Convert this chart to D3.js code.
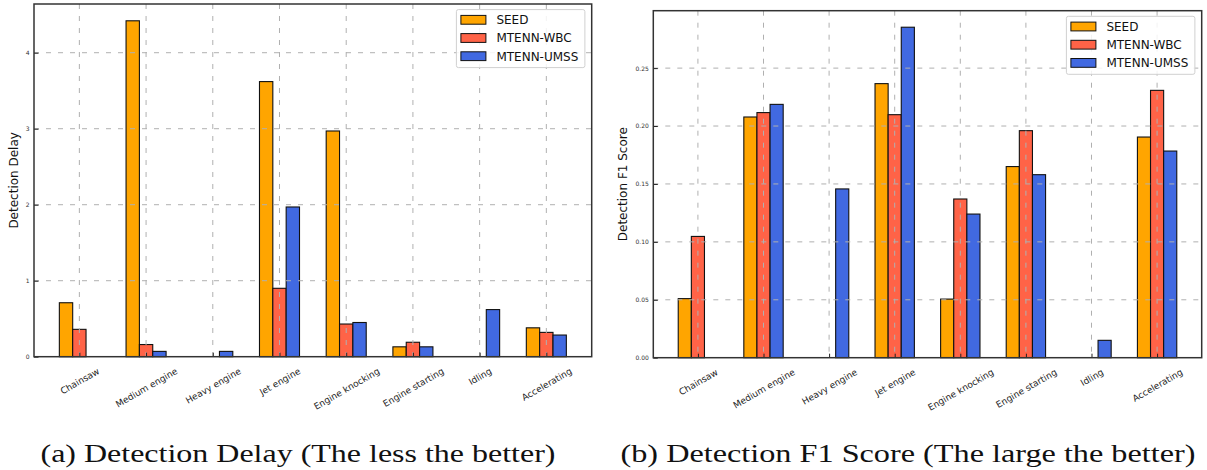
<!DOCTYPE html>
<html>
<head>
<meta charset="utf-8">
<script src="https://cdn.jsdelivr.net/npm/d3@7"></script>
<style>
  html, body { margin: 0; padding: 0; background: #fff; }
  svg { display: block; }
</style>
</head>
<body>
<svg id="chart" width="1207" height="470"></svg>
<script>
// Engine sound categories shared by both panels
const categories = ["Chainsaw", "Medium engine", "Heavy engine", "Jet engine",
  "Engine knocking", "Engine starting", "Idling", "Accelerating"];

const seriesNames = ["SEED", "MTENN-WBC", "MTENN-UMSS"];
const seriesColors = ["#FFA500", "#FF6347", "#4169E1"];

// Panel (a): detection delay
const delaySEED = [0.71, 4.42, 0, 3.62, 2.97, 0.13, 0, 0.38];
const delayWBC  = [0.36, 0.16, 0, 0.90, 0.43, 0.19, 0, 0.32];
const delayUMSS = [0, 0.07, 0.07, 1.97, 0.45, 0.13, 0.62, 0.285];
const delayTicks = [0, 1, 2, 3, 4];

// Panel (b): detection F1 score
const f1SEED = [0.051, 0.2078, 0, 0.2366, 0.0506, 0.165, 0, 0.1905];
const f1WBC  = [0.1047, 0.2116, 0, 0.2098, 0.137, 0.196, 0, 0.2308];
const f1UMSS = [0, 0.2187, 0.1457, 0.2853, 0.124, 0.158, 0.015, 0.1784];
const f1Ticks = [0, 0.05, 0.10, 0.15, 0.20, 0.25];

const svg = d3.select("#chart");
svg.append("rect").attr("width", 1207).attr("height", 470).attr("fill", "#fff");

function drawPanel(opts) {
  const { left, right, top, bottom, series, ticks, tickFmt, ylabel, ylabelX, caption, capX, capW } = opts;
  const g = svg.append("g");
  const barW = 0.2;
  const n = categories.length;

  const x = d3.scaleLinear().domain([-0.3 - 0.38, (n - 1) + 0.3 + 0.38]).range([left, right]);
  const ymax = d3.max(series.flat()) * 1.05;
  const y = d3.scaleLinear().domain([0, ymax]).range([bottom, top]);

  // bars
  series.forEach((vals, s) => {
    g.append("g").selectAll("rect")
      .data(vals.map((v, i) => ({ v, i })).filter(d => d.v > 0))
      .join("rect")
      .attr("x", d => x(d.i + (s - 1) * barW - barW / 2))
      .attr("width", d => x(barW) - x(0))
      .attr("y", d => y(d.v))
      .attr("height", d => y(0) - y(d.v))
      .attr("fill", seriesColors[s])
      .attr("stroke", "#111")
      .attr("stroke-width", 1.1);
  });

  // dashed grid on top of the bars
  const grid = g.append("g").attr("stroke", "#b0b0b0").attr("stroke-width", 1)
    .attr("stroke-dasharray", "5,7").attr("fill", "none");
  grid.selectAll("line.v").data(d3.range(n)).join("line").attr("class", "v")
    .attr("x1", d => x(d)).attr("x2", d => x(d)).attr("y1", top).attr("y2", bottom);
  grid.selectAll("line.h").data(ticks.filter(t => t > 0)).join("line").attr("class", "h")
    .attr("y1", d => y(d)).attr("y2", d => y(d)).attr("x1", left).attr("x2", right);

  // axes with inward ticks
  const yAxis = d3.axisLeft(y).tickValues(ticks).tickFormat(tickFmt).tickSizeInner(-4.5).tickSizeOuter(0).tickPadding(4.5);
  const ya = g.append("g").attr("transform", `translate(${left},0)`).call(yAxis);
  ya.select(".domain").remove();
  ya.selectAll("line").attr("stroke", "#222").attr("stroke-width", 1);
  ya.selectAll("text").attr("font-family", "DejaVu Sans").attr("font-size", 6).attr("fill", "#333");

  const xAxis = d3.axisBottom(x).tickValues(d3.range(n)).tickFormat(i => categories[i]).tickSizeInner(-4).tickSizeOuter(0);
  const xa = g.append("g").attr("transform", `translate(0,${bottom})`).call(xAxis);
  xa.select(".domain").remove();
  xa.selectAll("line").attr("stroke", "#222").attr("stroke-width", 1);
  xa.selectAll("text")
    .attr("font-family", "DejaVu Sans").attr("font-size", 9).attr("fill", "#222")
    .attr("text-anchor", "middle").attr("dy", "0.35em").attr("y", 0)
    .each(function () {
      const w = this.getComputedTextLength();
      const a = 30 * Math.PI / 180;
      const h = 9 * 0.9;
      const H = w * Math.sin(a) + h * Math.cos(a);
      const cy = 10 + H / 2;
      d3.select(this).attr("transform", `translate(0,${cy}) rotate(-30)`);
    });

  // frame
  g.append("rect").attr("x", left).attr("y", top).attr("width", right - left).attr("height", bottom - top)
    .attr("fill", "none").attr("stroke", "#333").attr("stroke-width", 1.5);

  // y label
  g.append("text")
    .attr("transform", `translate(${ylabelX},${(top + bottom) / 2}) rotate(-90)`)
    .attr("text-anchor", "middle").attr("dy", "0.35em")
    .attr("font-family", "DejaVu Sans").attr("font-size", 12).attr("fill", "#111")
    .text(ylabel);

  // legend
  const lgW = 128.5, lgH = 58;
  const lgX = right - 6.8 - lgW, lgY = top + 5.6;
  const lg = g.append("g").attr("transform", `translate(${lgX},${lgY})`);
  lg.append("rect").attr("width", lgW).attr("height", lgH).attr("rx", 2)
    .attr("fill", "#fff").attr("fill-opacity", 0.85).attr("stroke", "#d0d0d0").attr("stroke-width", 1);
  seriesNames.forEach((name, s) => {
    const cy = 10.2 + s * 18.2;
    lg.append("rect").attr("x", 4.5).attr("y", cy - 4.4).attr("width", 25).attr("height", 8.8)
      .attr("fill", seriesColors[s]).attr("stroke", "#111").attr("stroke-width", 1);
    lg.append("text").attr("x", 40).attr("y", cy).attr("dy", "0.36em")
      .attr("font-family", "DejaVu Sans").attr("font-size", 12).attr("fill", "#111").text(name);
  });

  // caption
  svg.append("text").attr("x", capX).attr("y", 461.5)
    .attr("font-family", "Liberation Serif").attr("font-size", 26).attr("fill", "#111")
    .attr("textLength", capW).attr("lengthAdjust", "spacingAndGlyphs")
    .text(caption);
}

drawPanel({
  left: 34, right: 591.7, top: 4, bottom: 356.7,
  series: [delaySEED, delayWBC, delayUMSS],
  ticks: delayTicks, tickFmt: d3.format("d"),
  ylabel: "Detection Delay", ylabelX: 14,
  caption: "(a) Detection Delay (The less the better)", capX: 40.5, capW: 515
});

drawPanel({
  left: 653.3, right: 1201.7, top: 10.7, bottom: 357.7,
  series: [f1SEED, f1WBC, f1UMSS],
  ticks: f1Ticks, tickFmt: d3.format(".2f"),
  ylabel: "Detection F1 Score", ylabelX: 623,
  caption: "(b) Detection F1 Score (The large the better)", capX: 620.5, capW: 575
});
</script>
</body>
</html>
